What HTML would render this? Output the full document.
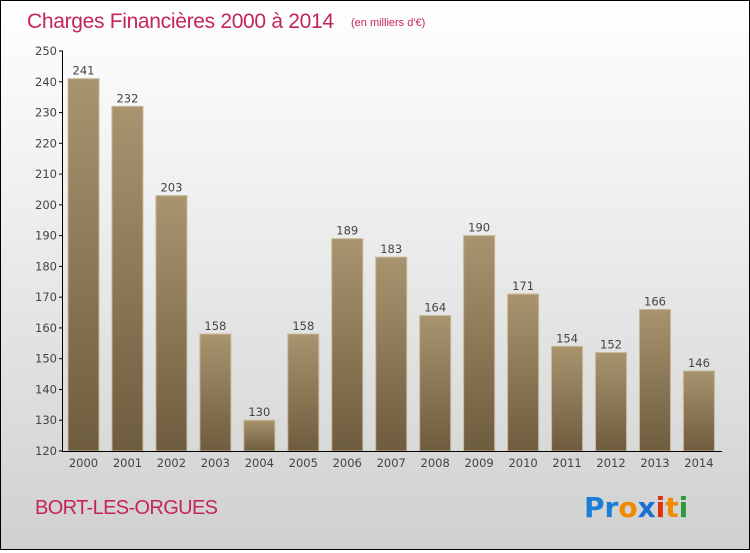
<!DOCTYPE html>
<html><head><meta charset="utf-8"><style>
body{margin:0}
#c{width:748px;height:548px;border:1px solid #000;background:linear-gradient(#ffffff,#f2f2f2 30%,#d0d0d0);position:relative;font-family:"DejaVu Sans","Liberation Sans",sans-serif}
</style></head><body>
<div id="c">
<svg width="748" height="548" id="s">
<defs><linearGradient id="g" x1="0" y1="0" x2="0" y2="1"><stop offset="0" stop-color="#a8946f"/><stop offset="1" stop-color="#6e5c3e"/></linearGradient></defs>
<text x="26" y="27" font-size="21" fill="#c4245e" font-family="Liberation Sans,sans-serif" textLength="307">Charges Financières 2000 à 2014</text>
<text x="350" y="25" font-size="11" fill="#c4245e" font-family="Liberation Sans,sans-serif">(en milliers d'€)</text>
<text x="34" y="513" font-size="20" fill="#c4245e" font-family="Liberation Sans,sans-serif" textLength="183">BORT-LES-ORGUES</text>
<g font-size="28" font-weight="bold" font-family="DejaVu Sans,sans-serif">
<text x="583" y="516"><tspan fill="#1a7fd4">Pr</tspan><tspan fill="#f08a00">o</tspan><tspan fill="#1a6fd4">x</tspan><tspan fill="#e03010">i</tspan><tspan fill="#f08a00">t</tspan><tspan fill="#2a9a3a">i</tspan></text></g>
<g id="plot"></g>
</svg></div>
<script>
const years=["2000","2001","2002","2003","2004","2005","2006","2007","2008","2009","2010","2011","2012","2013","2014"];
const values=[241,232,203,158,130,158,189,183,164,190,171,154,152,166,146];
const ticks=[120,130,140,150,160,170,180,190,200,210,220,230,240,250];
const NS="http://www.w3.org/2000/svg",p=document.getElementById('plot');
const y=v=>450-(v-120)*400/130, x=i=>82.5+i*43.96;
function mk(t,a,txt){const e=document.createElementNS(NS,t);for(const k in a)e.setAttribute(k,a[k]);if(txt!==undefined)e.textContent=txt;p.appendChild(e);return e;}
values.forEach((v,i)=>{
const r=mk('rect',{x:x(i)-15.5,y:y(v),width:31,height:450-y(v),fill:'url(#g)',stroke:'#c8b898','stroke-width':1});


const l=mk('text',{x:x(i),y:y(v)-4,'text-anchor':'middle','font-size':11.5,fill:'#444'},v);


const yl=mk('text',{x:x(i),y:466,'text-anchor':'middle','font-size':11.5,fill:'#444'},years[i]);


});
ticks.forEach(t=>{
mk('line',{x1:58,x2:62,y1:y(t),y2:y(t),stroke:'#000'});
const tl=mk('text',{x:56,y:y(t)+4,'text-anchor':'end','font-size':11.5,fill:'#444'},t);


});
const ya=mk('line',{x1:61.5,x2:61.5,y1:50,y2:450,stroke:'#000'});


const xa=mk('line',{x1:61,x2:721,y1:450.5,y2:450.5,stroke:'#000'});


</script>
</body></html>
